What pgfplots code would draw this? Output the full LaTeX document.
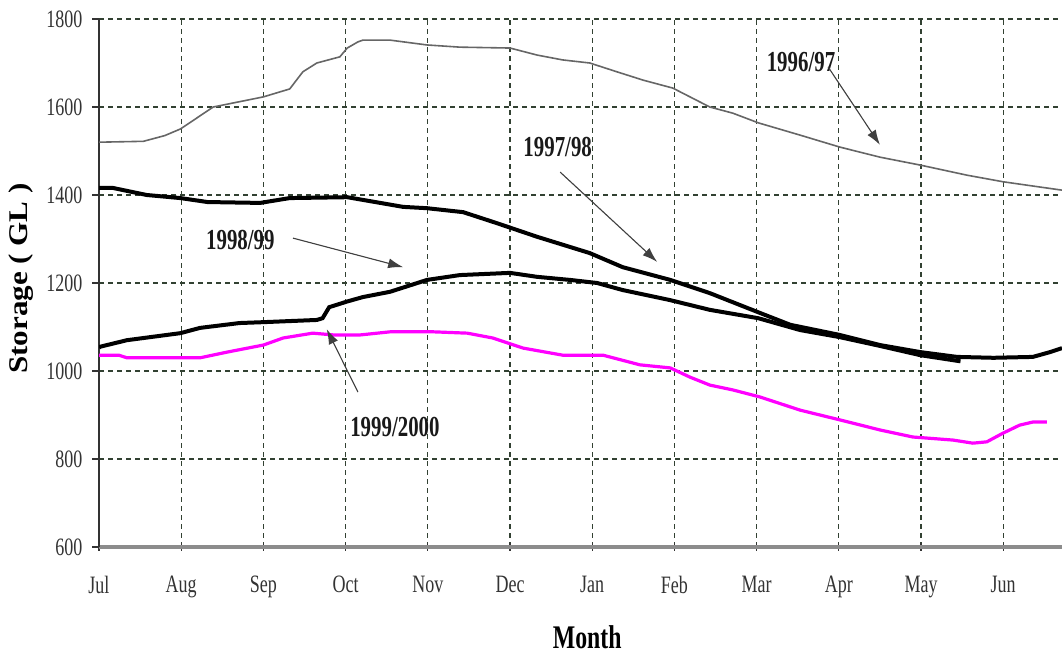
\documentclass[border=0pt]{standalone}
\usepackage{fontspec}
\setmainfont{Liberation Serif}
\newfontfamily\cf{Liberation Serif}[FakeStretch=0.72]
\newfontfamily\yf{Liberation Serif}[FakeStretch=1.15]
\usepackage{pgfplots}
\pgfplotsset{compat=1.18}
\usetikzlibrary{arrows.meta}
\definecolor{gridc}{RGB}{50,65,50}
\definecolor{mag}{RGB}{255,0,255}
\begin{document}
\begin{tikzpicture}
\path[use as bounding box] (0,0) rectangle (1062bp,655bp);
\begin{axis}[at={(99bp,108bp)}, anchor=south west, width=963bp, height=528bp, scale only axis,
  xmin=0, xmax=11.715, ymin=600, ymax=1800,
  xtick={0,...,11}, xticklabels={Jul,Aug,Sep,Oct,Nov,Dec,Jan,Feb,Mar,Apr,May,Jun},
  ytick={600,800,...,1800},
  axis x line*=bottom, axis y line*=left,
  x axis line style={draw=black!45, line width=3bp},
  y axis line style={draw=black!80, line width=2bp},
  grid=major, major grid style={draw=gridc, line width=1.1bp, dash pattern=on 5bp off 4bp},
  tick style={draw=black!80, line width=1.2bp},
  xtick align=center, ytick align=outside, major tick length=7bp,
  /pgf/number format/assume math mode=true,
  /pgf/number format/set thousands separator={},
  ticklabel style={font=\cf\fontsize{25bp}{25bp}\selectfont, text=black!80},
  xticklabel style={yshift=-22bp},
  yticklabel style={xshift=-6bp},
  xlabel={Month}, ylabel={Storage ( GL )},
  xlabel style={at={(axis description cs:0.507,-0.170)}, anchor=center, font=\cf\bfseries\fontsize{33bp}{33bp}\selectfont},
  ylabel style={at={(axis description cs:-0.081,0.5085)}, anchor=center, font=\yf\bfseries\fontsize{27bp}{27bp}\selectfont},
]
% 1996/97
\addplot[draw=black!60, line width=1.6bp] coordinates {
(0,1520) (0.54,1522) (0.8,1535) (0.99,1550) (1.39,1600) (2.0,1623) (2.32,1641) (2.48,1680)
(2.65,1700) (2.93,1714) (3.02,1734) (3.15,1748) (3.21,1752) (3.54,1752) (3.99,1741)
(4.39,1736) (5.0,1734) (5.33,1718) (5.64,1707) (5.97,1700) (6.30,1680) (6.62,1661)
(6.98,1643) (7.43,1600) (7.71,1586) (8.02,1564) (8.53,1536) (9.01,1509) (9.50,1486)
(9.99,1468) (10.56,1445) (11.0,1430) (11.715,1411)};
% 1997/98
\addplot[draw=black, line width=4bp] coordinates {
(0,1416) (0.17,1416) (0.58,1400) (0.99,1393) (1.32,1384) (1.96,1382) (2.32,1393)
(3.02,1395) (3.70,1373) (3.99,1370) (4.43,1361) (4.84,1336) (5.33,1305) (5.97,1268)
(6.37,1236) (6.95,1207) (7.43,1177) (8.04,1132) (8.41,1105) (9.01,1082) (9.50,1059)
(9.99,1043) (10.44,1032) (10.88,1030) (11.36,1032) (11.57,1043) (11.715,1052)};
% 1998/99
\addplot[draw=black, line width=4bp] coordinates {
(0,1052) (0.01,1055) (0.34,1070) (0.99,1086) (1.23,1098) (1.71,1109) (2.0,1111)
(2.65,1116) (2.72,1120) (2.80,1145) (3.02,1158) (3.21,1168) (3.54,1180) (3.99,1207)
(4.39,1218) (5.0,1223) (5.33,1214) (5.73,1207) (6.06,1200) (6.37,1184) (6.95,1161)
(7.43,1139) (8.02,1120) (8.53,1093) (9.01,1077) (9.50,1057) (9.99,1036) (10.48,1022)};
% 1999/2000
\addplot[draw=mag, line width=3.2bp] coordinates {
(0,1036) (0.24,1036) (0.34,1030) (1.23,1030) (1.56,1043) (2.0,1059) (2.24,1075)
(2.60,1086) (2.85,1082) (3.18,1082) (3.54,1089) (4.07,1089) (4.48,1086) (4.79,1075)
(5.16,1052) (5.64,1036) (6.13,1036) (6.58,1014) (6.95,1007) (7.19,986) (7.43,968)
(7.71,957) (8.04,941) (8.53,911) (9.01,889) (9.50,866) (9.90,850) (10.39,843)
(10.63,836) (10.80,839) (11.0,859) (11.20,877) (11.36,884) (11.53,884)};
% annotations
\tikzset{ann/.style={font=\cf\bfseries\fontsize{29bp}{29bp}\selectfont, text=black!90},
         arr/.style={-{Latex[length=15bp,width=10bp]}, draw=black!75, fill=black!85, line width=1.1bp}}
\node[ann] at (axis cs:8.54,1702) {1996/97};
\draw[arr] (axis cs:8.87,1691) -- (axis cs:9.50,1514);
\node[ann] at (axis cs:5.58,1509) {1997/98};
\draw[arr] (axis cs:5.61,1452) -- (axis cs:6.79,1248);
\node[ann] at (axis cs:1.72,1298) {1998/99};
\draw[arr] (axis cs:2.36,1302) -- (axis cs:3.70,1236);
\node[ann] at (axis cs:3.60,873) {1999/2000};
\draw[arr] (axis cs:3.15,952) -- (axis cs:2.77,1095);
\end{axis}
\end{tikzpicture}
\end{document}
